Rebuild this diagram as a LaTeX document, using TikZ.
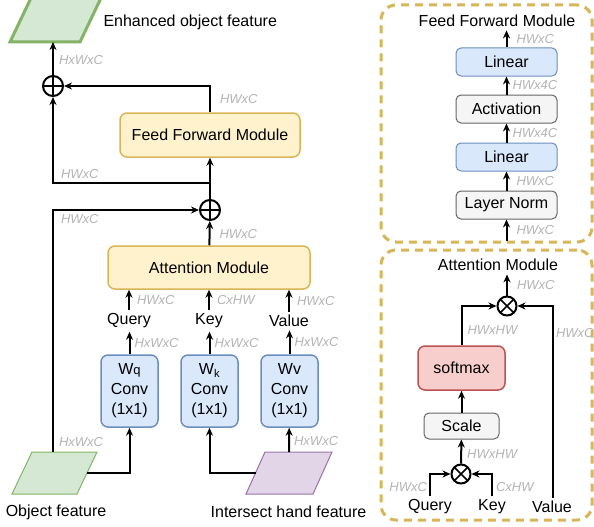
\documentclass[tikz,border=0pt]{standalone}
\usepackage{fontspec}
\setmainfont{Liberation Sans}
\usetikzlibrary{arrows.meta, positioning, shapes.geometric, calc}
\definecolor{ModFill}{HTML}{FFF2CC}
\definecolor{ModLine}{HTML}{D6B656}
\definecolor{ConvFill}{HTML}{DAE8FC}
\definecolor{ConvLine}{HTML}{6C8EBF}
\definecolor{OpFill}{HTML}{F5F5F5}
\definecolor{OpLine}{HTML}{666666}
\definecolor{SoftFill}{HTML}{F8CECC}
\definecolor{SoftLine}{HTML}{B85450}
\definecolor{ObjFill}{HTML}{D5E8D4}
\definecolor{ObjLine}{HTML}{82B366}
\definecolor{HandFill}{HTML}{E1D5E7}
\definecolor{HandLine}{HTML}{9673A6}
\definecolor{DimGray}{HTML}{B3B3B3}

\begin{document}
\begin{tikzpicture}[
  x=1pt, y=-1pt,
  >={Stealth[length=8pt,width=7pt]},
  base/.style={font=\fontsize{16}{20}\selectfont},
  module/.style={rectangle, rounded corners=7pt, line width=1.5pt, align=center, inner sep=0pt, base},
  yellowbox/.style={module, draw=ModLine, fill=ModFill},
  convbox/.style={module, draw=ConvLine, fill=ConvFill, minimum width=57pt, minimum height=72pt},
  layerbox/.style={module, rounded corners=5pt, line width=1pt, minimum width=101pt, minimum height=28pt},
  bluebox/.style={layerbox, draw=ConvLine, fill=ConvFill},
  graybox/.style={layerbox, draw=OpLine, fill=OpFill},
  objfeat/.style={draw=ObjLine, fill=ObjFill, line width=1pt},
  handfeat/.style={draw=HandLine, fill=HandFill, line width=1pt},
  sumop/.style={circle, draw, line width=2pt, minimum size=20pt, inner sep=0pt,
    path picture={\draw[line width=1.5pt] (path picture bounding box.north) -- (path picture bounding box.south)
      (path picture bounding box.west) -- (path picture bounding box.east);}},
  prodop/.style={circle, draw, line width=2pt, minimum size=19pt, inner sep=0pt,
    path picture={\draw[line width=1.5pt] (path picture bounding box.north west) -- (path picture bounding box.south east)
      (path picture bounding box.south west) -- (path picture bounding box.north east);}},
  panel/.style={rectangle, draw=ModLine, line width=3pt, dash pattern=on 8pt off 6pt, rounded corners=15pt},
  flow/.style={->, line width=2pt},
  dim/.style={font=\fontsize{13}{15}\selectfont\itshape, text=DimGray, inner sep=1pt}
]
\useasboundingbox (0,0) rectangle (594,527);

% left: whole block
\draw[objfeat, line width=3pt] (10,42) -- (31,-2) -- (101,-2) -- (80,42) -- cycle;
\coordinate (enhin) at (53,42);
\node[base, anchor=west] (enhtext) at (100,22) {Enhanced object feature};
\node[sumop] (addtop) at (53,86) {};
\node[yellowbox, minimum width=180pt, minimum height=44pt] (ffm) at (210,135) {Feed Forward Module};
\node[sumop] (addmid) at (210,210) {};
\coordinate (split) at (210,183);
\node[yellowbox, minimum width=202pt, minimum height=43pt] (attn) at (209,267.5) {Attention Module};
\node[base] (query) at (129,321) {Query};
\node[base] (key) at (209,321) {Key};
\node[base] (value) at (289,321) {Value};
\node[convbox] (wq) at (129.5,391) {W{\fontsize{13}{15}\selectfont q}\\Conv\\(1x1)};
\node[convbox] (wk) at (209.5,391) {W\textsubscript{k}\\Conv\\(1x1)};
\node[convbox] (wv) at (289.5,391) {Wv\\Conv\\(1x1)};
\draw[objfeat] (12,494) -- (32,452) -- (97,452) -- (77,494) -- cycle;
\coordinate (objtop) at (53,452);
\coordinate (objright) at (87,473);
\draw[handfeat] (246,494) -- (265,452) -- (332,452) -- (313,494) -- cycle;
\coordinate (handtop) at (289,452);
\coordinate (handleft) at (255.5,473);
\node[base] (objtext) at (56,512) {Object feature};
\node[base] (handtext) at (288.5,512) {Intersect hand feature};

\draw[flow] (addtop) -- (enhin) node[dim, pos=0.45, right=4pt] {HxWxC};
\draw[flow] (ffm.north) |- (addtop) node[dim, pos=0.25, right=8pt] {HWxC};
\draw[flow] (addmid) -- (ffm.south);
\draw[flow] (split) -| (addtop) node[dim, pos=0.5, anchor=south west, xshift=6pt, yshift=2pt] {HWxC};
\draw[flow] (objtop) |- (addmid) node[dim, pos=0.5, anchor=north west, xshift=6pt, yshift=-2pt] {HWxC}
  node[dim, pos=0.02, anchor=west, xshift=4pt] {HxWxC};
\draw[flow] (attn) -- (addmid) node[dim, pos=0.45, right=8pt] {HWxC};
\draw[flow] (query) -- (query |- attn.south) node[dim, midway, right=6pt] {HWxC};
\draw[flow] (key) -- (key |- attn.south) node[dim, midway, right=6pt] {CxHW};
\draw[flow] (value) -- (value |- attn.south) node[dim, midway, right=6pt] {HWxC};
\draw[flow] (wq) -- (wq.north |- query.south) node[dim, midway, right=3pt] {HxWxC};
\draw[flow] (wk) -- (wk.north |- key.south) node[dim, midway, right=3pt] {HxWxC};
\draw[flow] (wv) -- (wv.north |- value.south) node[dim, midway, right=3pt] {HxWxC};
\draw[flow] (objright) -| (wq);
\draw[flow] (handleft) -| (wk);
\draw[flow] (handtop) -- (wv) node[dim, pos=0.45, right=3pt] {HxWxC};

% right top: feed forward module
\node[panel, minimum width=211pt, minimum height=237pt] (ffmframe) at (486.5,123.5) {};
\node[base] (ffmtitle) at (497,21) {Feed Forward Module};
\node[bluebox] (lintop) at (506.5,62) {Linear};
\node[graybox] (act) at (506.5,109) {Activation};
\node[bluebox] (linbot) at (506.5,157) {Linear};
\node[graybox] (norm) at (506.5,205) {Layer Norm};
\coordinate (ffmin) at (506.5,241);
\draw[flow] (lintop) -- (lintop |- ffmtitle.south) node[dim, midway, right=8pt] {HWxC};
\draw[flow] (act) -- (lintop) node[dim, midway, right=4pt] {HWx4C};
\draw[flow] (linbot) -- (act) node[dim, midway, right=4pt] {HWx4C};
\draw[flow] (norm) -- (linbot) node[dim, midway, right=8pt] {HWxC};
\draw[flow] (ffmin) -- (norm) node[dim, midway, right=8pt] {HWxC};

% right bottom: attention module
\node[panel, minimum width=211pt, minimum height=270pt] (attnframe) at (486.5,385) {};
\node[base] (attntitle) at (498,265) {Attention Module};
\node[prodop] (mulv) at (507,306) {};
\node[module, draw=SoftLine, fill=SoftFill, minimum width=87pt, minimum height=44pt] (soft) at (461.5,368) {softmax};
\node[graybox, minimum width=75pt, minimum height=26pt] (scale) at (461.5,426) {Scale};
\node[prodop] (mulqk) at (461,474) {};
\node[base] (aquery) at (430,507) {Query};
\node[base] (akey) at (492,507) {Key};
\node[base] (avalue) at (552,507) {Value};
\draw[flow] (mulv) -- (mulv |- attntitle.south) node[dim, midway, right=8pt] {HWxC};
\draw[flow] (soft) |- (mulv) node[dim, pos=0.2, right=4pt] {HWxHW};
\draw[flow] (avalue.north -| 553,0) |- (mulv) node[dim, pos=0.43, right=1pt] {HWxC};
\draw[flow] (scale) -- (soft);
\draw[flow] (mulqk) -- (scale) node[dim, pos=0.4, right=4pt] {HWxHW};
\draw[flow] (aquery) |- (mulqk) node[dim, pos=0.2, left=1pt] {HWxC};
\draw[flow] (akey) |- (mulqk) node[dim, pos=0.2, right=2pt] {CxHW};
\end{tikzpicture}
\end{document}
